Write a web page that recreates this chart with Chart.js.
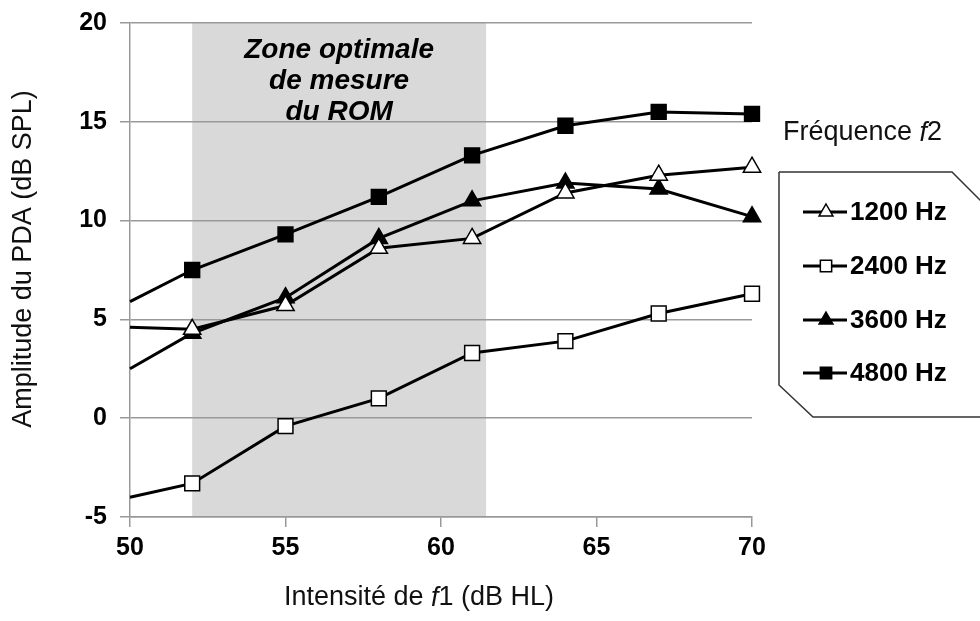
<!DOCTYPE html>
<html><head><meta charset="utf-8">
<script src="https://cdn.jsdelivr.net/npm/chart.js@4/dist/chart.umd.min.js"></script>
<style>html,body{margin:0;padding:0;background:#fff}#wrap{width:980px;height:621px;position:relative}</style>
</head><body><div id="wrap"><canvas id="c"></canvas></div>
<script>
// x values (dB HL); the first one is where the lines enter at the axis edge
const intensities = [50, 52, 55, 58, 61, 64, 67, 70];
const f1200 = [4.6, 4.5, 5.7, 8.6, 9.1, 11.4, 12.3, 12.7];
const f2400 = [-4.0, -3.3, -0.4, 1.0, 3.3, 3.9, 5.3, 6.3];
const f3600 = [2.5, 4.3, 6.1, 9.1, 11.0, 11.9, 11.6, 10.2];
const f4800 = [5.9, 7.5, 9.3, 11.2, 13.3, 14.8, 15.5, 15.4];
const seriesLabels = ['1200 Hz', '2400 Hz', '3600 Hz', '4800 Hz'];
const xTicks = [50, 55, 60, 65, 70];
const yTicks = [-5, 0, 5, 10, 15, 20];
const zoneRange = [52, 61.45];
const zoneText = ['Zone optimale', 'de mesure', 'du ROM'];

const FONT = '"Liberation Sans", Arial, sans-serif';

function mk(label, vals, style, fill) {
  return {
    label,
    data: intensities.map((x, i) => ({x, y: vals[i]})),
    borderColor: '#000', borderWidth: 3, tension: 0,
    clip: false,
    pointStyle: style,
    pointRadius: intensities.map((x, i) => i === 0 ? 0 : (style === 'rect' ? 10.5 : 10)),
    pointHoverRadius: 0,
    pointBackgroundColor: fill, pointBorderColor: '#000', pointBorderWidth: 1.5,
    fill: false
  };
}

const datasets = [
  mk(seriesLabels[0], f1200, 'triangle', '#fff'),
  mk(seriesLabels[1], f2400, 'rect', '#fff'),
  mk(seriesLabels[2], f3600, 'triangle', '#000'),
  mk(seriesLabels[3], f4800, 'rect', '#000')
];

function drawRich(ctx, parts, x, y, align) {
  let total = 0;
  parts.forEach(p => { ctx.font = p.font; p.w = ctx.measureText(p.t).width; total += p.w; });
  let cx = align === 'center' ? x - total / 2 : x;
  ctx.textAlign = 'left';
  parts.forEach(p => { ctx.font = p.font; ctx.fillText(p.t, cx, y); cx += p.w; });
}

const decor = {
  id: 'decor',
  beforeDraw(chart) {
    const {ctx, chartArea: a, scales: {x, y}} = chart;
    const x0 = x.getPixelForValue(zoneRange[0]), x1 = x.getPixelForValue(zoneRange[1]);
    ctx.save();
    ctx.fillStyle = '#d9d9d9';
    ctx.fillRect(x0, a.top, x1 - x0, a.bottom - a.top);
    ctx.fillStyle = '#000';
    ctx.font = 'italic bold 28px ' + FONT;
    ctx.textAlign = 'center';
    ctx.textBaseline = 'alphabetic';
    const cx = (x0 + x1) / 2;
    zoneText.forEach((t, i) => ctx.fillText(t, cx, 58 + i * 31));
    ctx.restore();
  },
  afterDraw(chart) {
    const {ctx, chartArea: a, scales: {x, y}} = chart;
    ctx.save();
    ctx.fillStyle = '#000';
    // tick labels
    ctx.font = 'bold 25px ' + FONT;
    ctx.textBaseline = 'middle';
    ctx.textAlign = 'right';
    yTicks.forEach(v => ctx.fillText(String(v), a.left - 23, y.getPixelForValue(v)));
    ctx.textAlign = 'center';
    xTicks.forEach(v => ctx.fillText(String(v), x.getPixelForValue(v), a.bottom + 31));
    // y title
    ctx.save();
    ctx.translate(24, (a.top + a.bottom) / 2 - 11);
    ctx.rotate(-Math.PI / 2);
    ctx.font = '27px ' + FONT;
    ctx.textAlign = 'center';
    ctx.textBaseline = 'middle';
    ctx.fillStyle = '#111';
    ctx.fillText('Amplitude du PDA (dB SPL)', 0, 0);
    ctx.restore();
    // x title
    ctx.textBaseline = 'middle';
    ctx.fillStyle = '#111';
    drawRich(ctx, [
      {t: 'Intensité de ', font: '27px ' + FONT},
      {t: 'f', font: 'italic 27px ' + FONT},
      {t: '1 (dB HL)', font: '27px ' + FONT}
    ], 419, 598, 'center');
    // legend title
    drawRich(ctx, [
      {t: 'Fréquence ', font: '27px ' + FONT},
      {t: 'f', font: 'italic 27px ' + FONT},
      {t: '2', font: '27px ' + FONT}
    ], 783, 133, 'left');
    // legend box
    ctx.beginPath();
    ctx.moveTo(779, 172);
    ctx.lineTo(952, 172);
    ctx.lineTo(982, 202);
    ctx.moveTo(982, 417);
    ctx.lineTo(813, 417);
    ctx.lineTo(779, 385);
    ctx.lineTo(779, 172);
    ctx.strokeStyle = '#333';
    ctx.lineWidth = 1.5;
    ctx.stroke();
    // legend items
    const rows = [212, 266, 320, 373];
    chart.data.datasets.forEach((ds, i) => {
      const ry = rows[i];
      ctx.beginPath();
      ctx.moveTo(803, ry); ctx.lineTo(847, ry);
      ctx.strokeStyle = '#000'; ctx.lineWidth = 3; ctx.stroke();
      ctx.fillStyle = ds.pointBackgroundColor; ctx.strokeStyle = '#000'; ctx.lineWidth = 1.5;
      ctx.beginPath();
      if (ds.pointStyle === 'rect') {
        const s = 8 * Math.SQRT1_2; ctx.rect(826 - s, ry - s, 2 * s, 2 * s);
      } else {
        const r = 8; ctx.moveTo(826, ry - r);
        ctx.lineTo(826 + r * 0.866, ry + r / 2); ctx.lineTo(826 - r * 0.866, ry + r / 2); ctx.closePath();
      }
      ctx.fill(); ctx.stroke();
      ctx.fillStyle = '#000';
      ctx.font = 'bold 26px ' + FONT;
      ctx.textAlign = 'left'; ctx.textBaseline = 'middle';
      ctx.fillText(ds.label, 850, ry + 1);
    });
    ctx.restore();
  }
};

new Chart(document.getElementById('c'), {
  type: 'line',
  data: {datasets},
  options: {
    responsive: true, maintainAspectRatio: false, animation: false,
    layout: {padding: {left: 0, right: 228, top: 23, bottom: 0}},
    plugins: {legend: {display: false}, tooltip: {enabled: false}},
    scales: {
      x: {
        type: 'linear', min: 50, max: 70,
        afterBuildTicks: s => { s.ticks = xTicks.map(v => ({value: v})); },
        afterFit: s => { s.height = 104; },
        ticks: {display: false},
        grid: {drawOnChartArea: false, drawTicks: true, tickLength: 10, color: '#999', lineWidth: 1.5},
        border: {color: '#999', width: 1.5}
      },
      y: {
        min: -5, max: 20,
        afterBuildTicks: s => { s.ticks = yTicks.map(v => ({value: v})); },
        afterFit: s => { s.width = 130; },
        ticks: {display: false},
        grid: {drawTicks: true, tickLength: 10, color: '#999', lineWidth: 1.5},
        border: {color: '#999', width: 1.5}
      }
    }
  },
  plugins: [decor]
});
</script>
</body></html>
